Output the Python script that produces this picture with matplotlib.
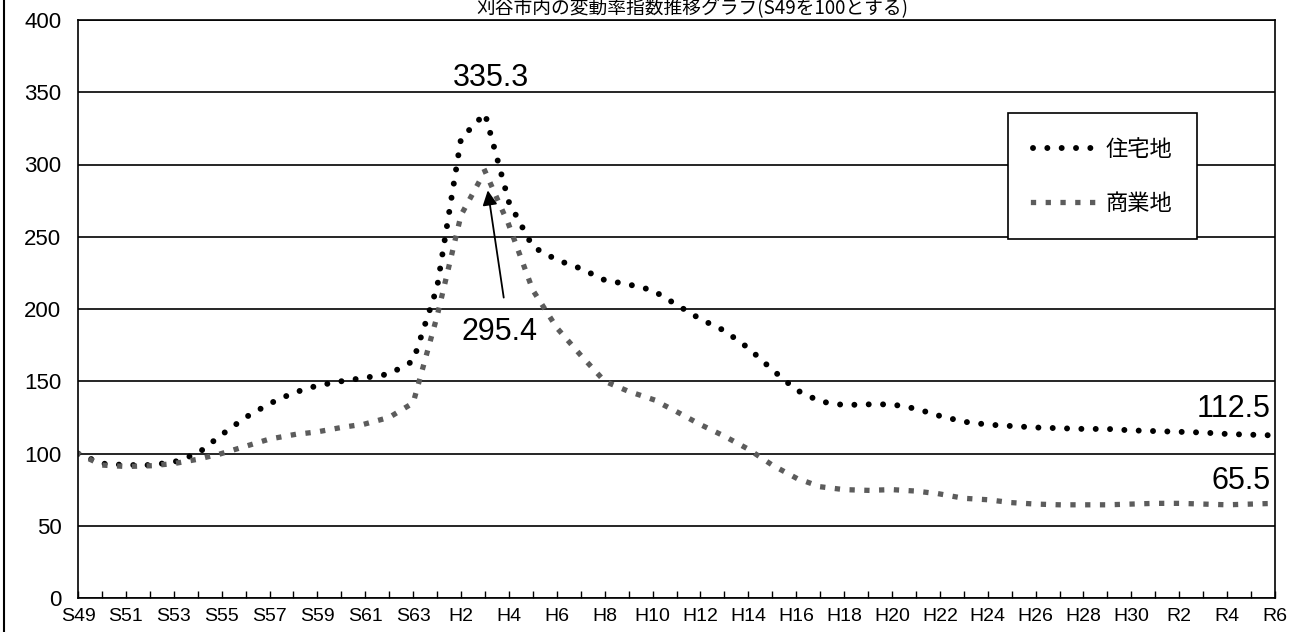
import numpy as np
import matplotlib.pyplot as plt
from matplotlib.lines import Line2D

plt.rcParams['font.family'] = ['Liberation Sans', 'Noto Sans CJK JP', 'DejaVu Sans']

# 年次ラベル (S49 = 1974 ... R6 = 2024)
years = (['S%d' % y for y in range(49, 64)]
         + ['H%d' % y for y in range(1, 31)]
         + ['R%d' % y for y in range(1, 7)])

# 住宅地 / 商業地 の指数 (S49 = 100)
residential = [100, 93, 92, 92, 94, 100, 113, 125, 134.5, 142, 147, 150, 152.5,
               155, 164, 215, 318, 335.3, 274, 243, 234, 228, 220, 217, 213, 203,
               193, 185, 173, 158, 144, 136, 133.5, 134, 134, 131, 126, 122, 120,
               119, 118, 117.5, 117, 117, 116, 115.5, 115, 114.5, 113.5, 113, 112.5]
commercial = [100, 92, 91, 91.5, 93, 96, 100, 105, 110, 113, 115, 118, 120.5,
              125, 135, 195, 265, 295.4, 258, 213, 187, 168, 150, 143, 137.5, 129,
              120, 112, 103, 92, 83, 77, 75, 74.5, 75, 74, 72, 69, 68, 66, 65,
              64.5, 64.5, 64.5, 65, 65.5, 65.5, 65, 64.5, 65, 65.5]

title = '刈谷市内の変動率指数推移グラフ(S49を100とする)'
num_font = ['Liberation Sans Narrow', 'Liberation Sans', 'DejaVu Sans']

x = np.arange(len(years))

fig = plt.figure(figsize=(12.95, 6.32), dpi=100)
ax = fig.add_axes([78 / 1295, 1 - 598 / 632, (1275 - 78) / 1295, (598 - 20) / 632])

ax.plot(x, residential, color='black', lw=4.3, linestyle=(0, (0.001, 2.4)),
        dash_capstyle='round', label='住宅地')
ax.plot(x, commercial, color='#5c5c5c', lw=3.8, linestyle=(0, (0.001, 2.8)),
        dash_capstyle='projecting', label='商業地')

ax.set_xlim(0, len(years) - 1)
ax.set_ylim(0, 400)
ax.set_yticks(range(0, 401, 50))
ax.yaxis.grid(True, color='black', lw=1.2)
ax.set_axisbelow(True)
for s in ax.spines.values():
    s.set_color('black')
    s.set_linewidth(1.2)

ax.set_xticks(x[::2])
ax.set_xticklabels(years[::2], fontsize=14)
ax.set_xticks(x[1::2], minor=True)
ax.tick_params(axis='x', which='both', direction='in', length=5, width=1, pad=7)
ax.tick_params(axis='y', length=0, pad=12, labelsize=16)

# データラベル
ax.text(17.25, 360, '335.3', ha='center', va='center', fontsize=22, family=num_font)
ax.text(17.6, 184, '295.4', ha='center', va='center', fontsize=22, family=num_font)
ax.annotate('', xy=(17.1, 284), xytext=(17.8, 206),
            arrowprops=dict(arrowstyle='-|>', color='black', lw=1.3, mutation_scale=22))
ax.text(49.8, 131, '112.5', ha='right', va='center', fontsize=22, family=num_font)
ax.text(49.8, 81, '65.5', ha='right', va='center', fontsize=22, family=num_font)

leg = ax.legend(loc='upper left', bbox_to_anchor=(0.777, 0.839), frameon=True,
                fancybox=False, edgecolor='black', framealpha=1,
                prop=dict(family=['Noto Sans CJK JP'], size=16),
                handlelength=3, labelspacing=1.4, borderpad=1.1,
                handletextpad=0.3, borderaxespad=0)
leg.get_frame().set_linewidth(1.2)

fig.text(0.535, 1 - 9 / 632, title, ha='center', va='center', fontsize=13.5,
         family=['Noto Sans CJK JP', 'DejaVu Sans'])
fig.add_artist(Line2D([0.003, 0.003], [0, 1], transform=fig.transFigure,
                      color='black', lw=1.5))

fig.savefig('out.png', dpi=100)
